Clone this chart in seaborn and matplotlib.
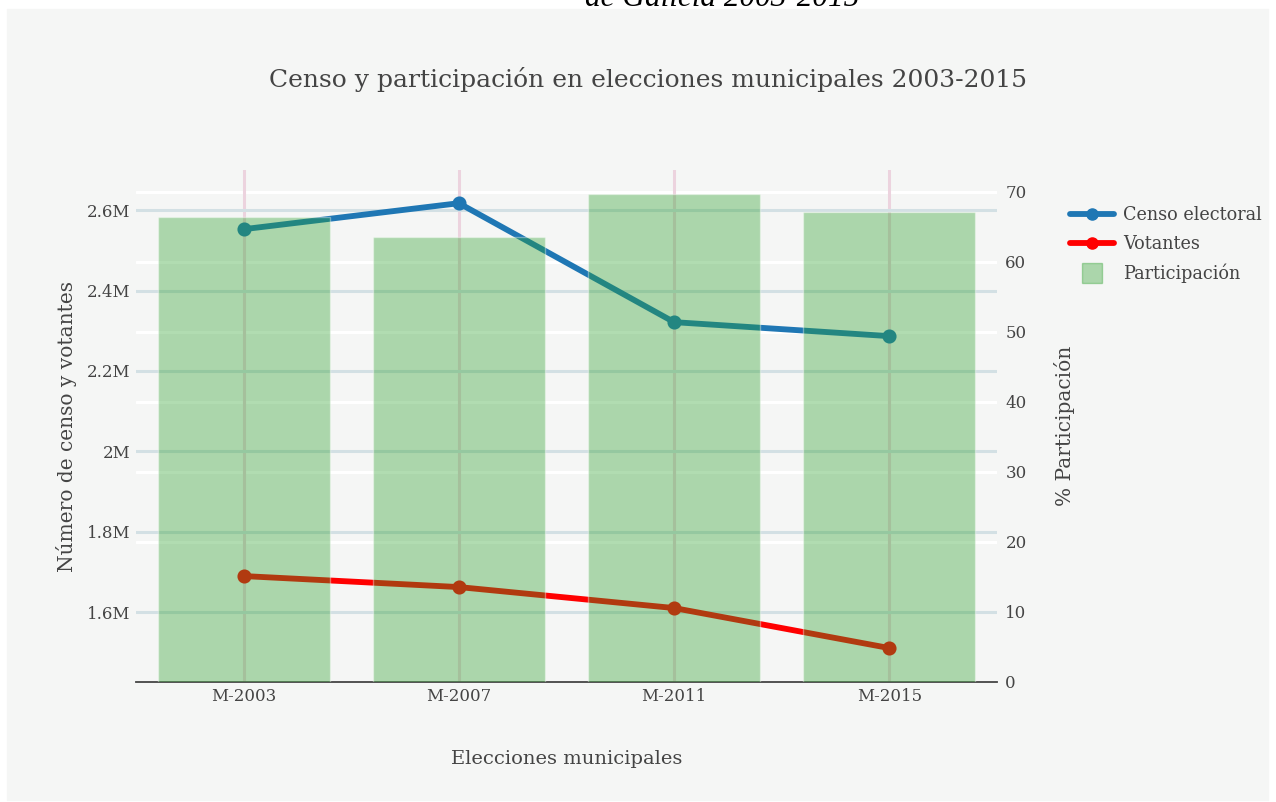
import numpy as np
import pandas as pd
import matplotlib
matplotlib.use('Agg')
import matplotlib.pyplot as plt
import matplotlib.patches as mpatches
from matplotlib.lines import Line2D
import seaborn as sns

# data
elecciones = ['M-2003', 'M-2007', 'M-2011', 'M-2015']
censo = [2552700, 2617400, 2321400, 2286600]
votantes = [1689600, 1662200, 1610000, 1510400]
participacion = [66.4, 63.6, 69.7, 67.1]

df = pd.DataFrame({'eleccion': elecciones, 'censo': censo,
                   'votantes': votantes, 'participacion': participacion})

panelColor = '#f5f6f5'
textColor = '#444444'
blue = '#1f77b4'
red = '#ff0000'
green = '#2ca02c'

sns.set_style('white')
plt.rcParams['font.family'] = ['DejaVu Serif']

fig = plt.figure(figsize=(12.76, 8.02), dpi=100, facecolor='white')
W, H = 1276, 802
# grey panel behind the plot
fig.patches.append(mpatches.Rectangle((7 / W, 2 / H), 1261 / W, 791 / H,
                                      transform=fig.transFigure, color=panelColor, zorder=-10))
fig.text(0.566, 1 - 6 / H, 'de Galicia 2003-2015', ha='center', va='baseline',
         fontsize=22.5, style='italic', family='Liberation Serif', color='black')
fig.text(648 / W, 1 - 80 / H, 'Censo y participación en elecciones municipales 2003-2015',
         ha='center', va='center', fontsize=18, color=textColor)

rect = [136 / W, 1 - 682 / H, (997 - 136) / W, (682 - 170) / H]
ax = fig.add_axes(rect)
ax2 = ax.twinx()   # right scale, white grid, sits at the back
ax3 = ax.twinx()   # bars, drawn over the lines
ax2.set_zorder(1)
ax.set_zorder(2)
ax3.set_zorder(3)
ax2.patch.set_visible(True)
ax2.patch.set_facecolor(panelColor)
ax.patch.set_visible(False)
ax3.patch.set_visible(False)

# lines (left scale)
sns.pointplot(ax=ax, data=df, x='eleccion', y='censo', color=blue,
              markers='o', markersize=7, linewidth=4.2, zorder=3)
sns.pointplot(ax=ax, data=df, x='eleccion', y='votantes', color=red,
              markers='o', markersize=7, linewidth=4.2, zorder=3)

ax.set_ylim(1426000, 2700000)
ax.set_xlim(-0.5, len(elecciones) - 0.5)
yt = [1600000, 1800000, 2000000, 2200000, 2400000, 2600000]
ax.set_yticks(yt)
ax.set_yticklabels(['1.6M', '1.8M', '2M', '2.2M', '2.4M', '2.6M'])
ax.grid(True, axis='y', color='#d3e0e4', lw=2.2)
ax.grid(True, axis='x', color='#ecd3de', lw=2.2)
ax.set_axisbelow(True)
for s in ['top', 'right', 'left']:
    ax.spines[s].set_visible(False)
ax.spines['bottom'].set_color(textColor)
ax.spines['bottom'].set_linewidth(1.3)
ax.tick_params(axis='both', length=0, labelsize=12, colors=textColor, pad=4)
ax.set_xlabel('Elecciones municipales', fontsize=14, color=textColor, labelpad=33)
ax.set_ylabel('Número de censo y votantes', fontsize=14.5, color=textColor, labelpad=7)

# right scale with its white grid
ax2.set_ylim(0, 73.1)
ax2.set_yticks(range(0, 80, 10))
ax2.grid(True, axis='y', color='white', lw=2.2)
ax2.grid(False, axis='x')
ax2.set_axisbelow(True)
for s in ['top', 'right', 'left', 'bottom']:
    ax2.spines[s].set_visible(False)
ax2.tick_params(axis='y', length=0, labelsize=12, colors=textColor, pad=6)
ax2.set_ylabel('% Participación', fontsize=14.5, color=textColor, labelpad=20)

# bars (right scale) on top
sns.barplot(ax=ax3, data=df, x='eleccion', y='participacion', color=green,
            alpha=0.37, width=0.8, saturation=1)
ax3.set_ylim(0, 73.1)
ax3.set_xlim(-0.5, len(elecciones) - 0.5)
ax3.set_yticks([])
ax3.set_xlabel('')
ax3.set_ylabel('')
ax3.grid(False)
for s in ['top', 'right', 'left', 'bottom']:
    ax3.spines[s].set_visible(False)

handles = [Line2D([], [], color=blue, lw=4.2, marker='o', markersize=8),
           Line2D([], [], color=red, lw=4.2, marker='o', markersize=8),
           Line2D([], [], color=green, alpha=0.37, marker='s', ls='none', markersize=14)]
fig.legend(handles, ['Censo electoral', 'Votantes', 'Participación'],
           loc='upper left', bbox_to_anchor=(1054 / W, 1 - 190 / H), frameon=False,
           fontsize=12.7, labelcolor=textColor, handlelength=2.5, handletextpad=0.5,
           labelspacing=0.62)

fig.savefig('out.png', dpi=100, facecolor='white')
